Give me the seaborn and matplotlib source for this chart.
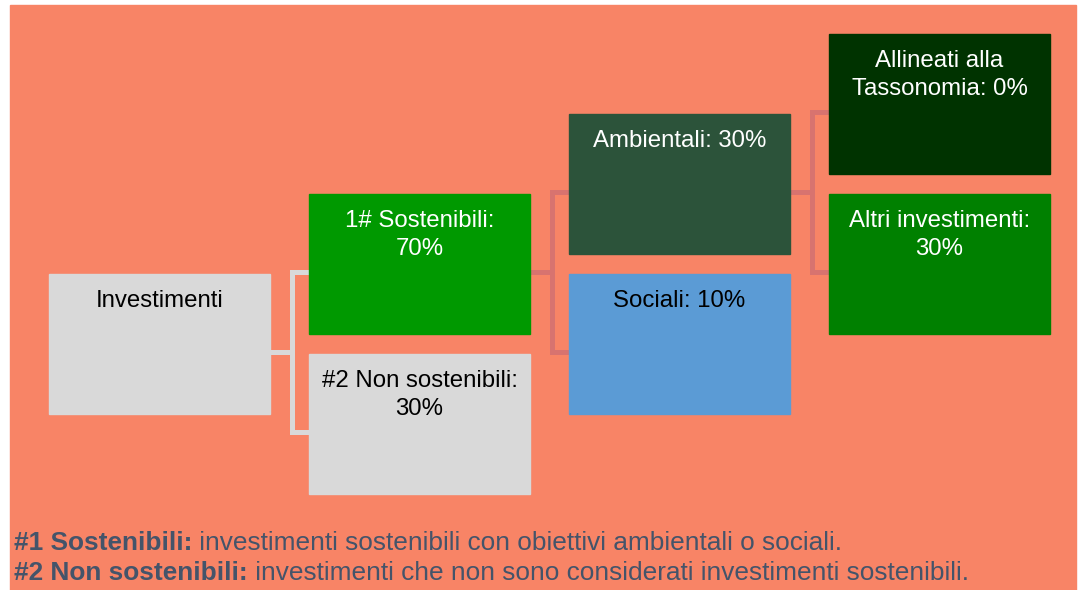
import matplotlib.pyplot as plt
import seaborn as sns
from matplotlib.patches import Rectangle

# tree nodes: label lines, column level, row slot, parent index, colours
labels = [
    ["Investimenti"],
    ["1# Sostenibili:", "70%"],
    ["#2 Non sostenibili:", "30%"],
    ["Ambientali: 30%"],
    ["Sociali: 10%"],
    ["Allineati alla", "Tassonomia: 0%"],
    ["Altri investimenti:", "30%"],
]
levels = [0, 1, 1, 2, 2, 3, 3]
slots = [3, 2, 4, 1, 3, 0, 2]
parents = [None, 0, 0, 1, 1, 3, 3]
box_colors = ["#D9D9D9", "#009900", "#D9D9D9", "#2C533A", "#5B9BD5", "#003300", "#008000"]
text_colors = ["black", "white", "black", "white", "black", "white", "white"]
link_colors = {0: "#D9D9D9", 1: "#D8736F", 3: "#D8736F"}

footer = [
    ("#1 Sostenibili:", " investimenti sostenibili con obiettivi ambientali o sociali."),
    ("#2 Non sostenibili:", " investimenti che non sono considerati investimenti sostenibili."),
]

W, H = 1081, 590
x0, y0 = 49, 34
col_step, row_step = 260, 80
bw, bh = 221, 140

sns.set_theme(style="white")
plt.rcParams['font.family'] = ['Liberation Sans', 'DejaVu Sans']

fig = plt.figure(figsize=(W / 100, H / 100), dpi=100)
ax = fig.add_axes([0, 0, 1, 1])
ax.set_xlim(0, W)
ax.set_ylim(H, 0)
ax.axis('off')

ax.add_patch(Rectangle((10, 5), 1066, 590, color="#F88466", zorder=0))

def box(i):
    left = x0 + col_step * levels[i]
    top = y0 + row_step * slots[i]
    return left, top

# connectors
for p in sorted(set(q for q in parents if q is not None)):
    kids = [i for i, q in enumerate(parents) if q == p]
    pl, pt = box(p)
    bx = pl + bw + 22
    ys = [box(k)[1] + bh / 2 + 8 for k in kids]
    c = link_colors[p]
    lw = 3.6
    ax.plot([pl + bw, bx], [pt + bh / 2 + 8] * 2, color=c, lw=lw, solid_capstyle='butt', zorder=1)
    ax.plot([bx, bx], [min(ys), max(ys)], color=c, lw=lw, solid_capstyle='projecting', zorder=1)
    for k, y in zip(kids, ys):
        ax.plot([bx, box(k)[0]], [y, y], color=c, lw=lw, solid_capstyle='butt', zorder=1)

# boxes
for i, lines in enumerate(labels):
    left, top = box(i)
    ax.add_patch(Rectangle((left, top), bw, bh, color=box_colors[i], zorder=2))
    for j, line in enumerate(lines):
        ax.text(left + bw / 2, top + 33 + 28 * j, line, ha='center', va='baseline',
                fontsize=17.3, color=text_colors[i], zorder=3)

# footer notes
fig.canvas.draw()
renderer = fig.canvas.get_renderer()
for j, (bold, rest) in enumerate(footer):
    yb = 550 + 30 * j
    t = ax.text(14, yb, bold, ha='left', va='baseline', fontsize=18.9,
                fontweight='bold', color="#44546A", zorder=3)
    bb = t.get_window_extent(renderer=renderer)
    xr = ax.transData.inverted().transform((bb.x1, bb.y0))[0]
    ax.text(xr, yb, rest, ha='left', va='baseline', fontsize=18.9,
            color="#44546A", zorder=3)

fig.savefig("out.png", dpi=100, facecolor="white")
